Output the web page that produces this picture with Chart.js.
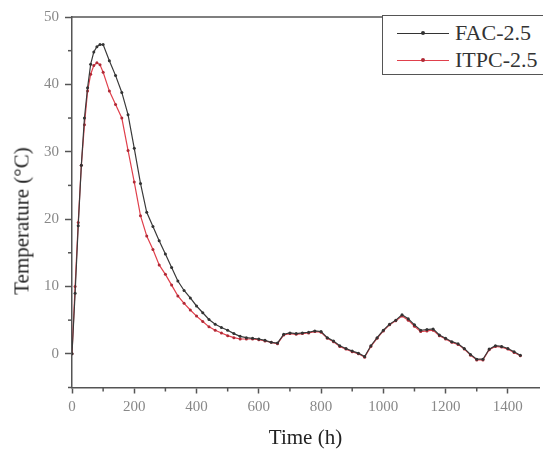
<!DOCTYPE html>
<html>
<head>
<meta charset="utf-8">
<script src="https://cdn.jsdelivr.net/npm/chart.js@4.4.0/dist/chart.umd.min.js"></script>
<style>
  html, body { margin: 0; padding: 0; background: #fff; }
  #wrap { position: relative; width: 543px; height: 451px; }
  #legend {
    position: absolute; left: 382px; top: 15px; width: 170px; height: 58px;
    border: 1px solid #555; background: #fff;
    font-family: "Liberation Serif", "Times New Roman", serif; font-size: 22px; color: #333;
  }
  .row { position: absolute; left: 14px; height: 24px; line-height: 24px; white-space: nowrap; }
  .sample { display: inline-block; position: relative; width: 52px; height: 0; border-top: 1.5px solid; vertical-align: middle; margin-right: 6px; top: -1px; }
  .sample i { position: absolute; left: 24px; top: -3px; width: 4px; height: 4px; border-radius: 2px; }
  #ytitle {
    position: absolute; left: 22px; top: 221px; transform: translate(-50%, -50%) rotate(-90deg);
    font-family: "Liberation Serif", "Times New Roman", serif; font-size: 21px; color: #222; white-space: nowrap;
  }
</style>
</head>
<body>
<div id="wrap">
  <canvas id="tempChart" width="543" height="451"></canvas>
  <div id="ytitle">Temperature (°C)</div>
  <div id="legend">
    <div class="row" style="top:5px"><span class="sample" style="border-color:#333"><i style="background:#333"></i></span>FAC-2.5</div>
    <div class="row" style="top:32px"><span class="sample" style="border-color:#e0404c"><i style="background:#b02a36"></i></span>ITPC-2.5</div>
  </div>
</div>
<script>
// ======= Data =======
const hours = [0, 10, 20, 30, 40, 50, 60, 70, 80, 90, 100,
  120, 140, 160, 180, 200, 220, 240, 260, 280, 300,
  320, 340, 360, 380, 400, 420, 440, 460, 480, 500,
  520, 540, 560, 580, 600, 620, 640, 660, 680, 700,
  720, 740, 760, 780, 800, 820, 840, 860, 880, 900,
  920, 940, 960, 980, 1000, 1020, 1040, 1060, 1080, 1100,
  1120, 1140, 1160, 1180, 1200, 1220, 1240, 1260, 1280, 1300,
  1320, 1340, 1360, 1380, 1400, 1420, 1440];

const facTemp = [0, 9, 19, 28, 35, 39.5, 43, 44.8, 45.6, 45.9, 45.9,
  43.5, 41.3, 38.8, 35.5, 30.5, 25.3, 21, 18.9, 16.8, 14.8,
  12.8, 10.8, 9.4, 8.3, 7.1, 6.1, 5.1, 4.4, 3.9, 3.5,
  3.0, 2.6, 2.4, 2.3, 2.2, 2.0, 1.7, 1.6, 2.9, 3.1,
  3.0, 3.1, 3.2, 3.4, 3.3, 2.4, 1.9, 1.2, 0.8, 0.4,
  0.1, -0.4, 1.2, 2.4, 3.5, 4.4, 5.0, 5.8, 5.2, 4.3,
  3.5, 3.6, 3.7, 2.8, 2.3, 1.8, 1.5, 0.8, -0.1, -0.8,
  -0.8, 0.7, 1.2, 1.1, 0.8, 0.3, -0.2];

const itpcTemp = [0, 10, 19.5, 28, 34, 39, 41.5, 42.8, 43.2, 42.9, 41.8,
  39, 37, 35, 30.2, 25.5, 20.5, 17.5, 15.5, 13.2, 11.8,
  10.2, 8.6, 7.5, 6.5, 5.6, 4.8, 4.0, 3.5, 3.1, 2.7,
  2.4, 2.2, 2.2, 2.2, 2.1, 1.9, 1.7, 1.5, 2.8, 3.0,
  2.9, 3.0, 3.1, 3.3, 3.2, 2.3, 1.8, 1.1, 0.7, 0.3,
  0.0, -0.5, 1.1, 2.3, 3.4, 4.3, 4.9, 5.6, 5.0, 4.1,
  3.3, 3.4, 3.5, 2.7, 2.2, 1.7, 1.4, 0.7, -0.2, -0.9,
  -0.9, 0.6, 1.1, 1.0, 0.7, 0.2, -0.3];

const yTicks = [0, 10, 20, 30, 40, 50];
const xTicks = [0, 200, 400, 600, 800, 1000, 1200, 1400];

const axisColor = "#555";
const serif = "'Liberation Serif', 'Times New Roman', serif";

// frame top line + minor ticks
const framePlugin = {
  id: "frame",
  afterDraw(chart) {
    const { ctx, chartArea, scales } = chart;
    ctx.save();
    ctx.strokeStyle = axisColor;
    ctx.lineWidth = 1.5;
    ctx.beginPath();
    ctx.moveTo(chartArea.left, chartArea.top);
    ctx.lineTo(chartArea.right, chartArea.top);
    ctx.stroke();
    for (let v = -5; v < 50; v += 10) {
      const py = scales.y.getPixelForValue(v);
      ctx.beginPath();
      ctx.moveTo(chartArea.left, py);
      ctx.lineTo(chartArea.left - 4, py);
      ctx.stroke();
    }
    for (let v = 100; v < 1500; v += 200) {
      const px = scales.x.getPixelForValue(v);
      ctx.beginPath();
      ctx.moveTo(px, chartArea.bottom);
      ctx.lineTo(px, chartArea.bottom + 4);
      ctx.stroke();
    }
    ctx.restore();
  }
};

const ctx = document.getElementById("tempChart").getContext("2d");
const tempChart = new Chart(ctx, {
  type: "line",
  data: {
    labels: hours,
    datasets: [
      {
        label: "FAC-2.5",
        data: hours.map((h, i) => ({ x: h, y: facTemp[i] })),
        borderColor: "#3a3a3a",
        backgroundColor: "#333",
        borderWidth: 1.2,
        pointRadius: 1.5,
        pointBorderWidth: 0,
        tension: 0
      },
      {
        label: "ITPC-2.5",
        data: hours.map((h, i) => ({ x: h, y: itpcTemp[i] })),
        borderColor: "#e0404c",
        backgroundColor: "#b02a36",
        borderWidth: 1.2,
        pointRadius: 1.5,
        pointBorderWidth: 0,
        tension: 0
      }
    ]
  },
  options: {
    responsive: false,
    animation: false,
    layout: { padding: { top: 17, right: 0, bottom: 0, left: 0 } },
    plugins: { legend: { display: false }, tooltip: { enabled: false } },
    scales: {
      x: {
        type: "linear",
        min: 0,
        max: 1500,
        afterFit(scale) { scale.height = 63.5; },
        afterBuildTicks(scale) { scale.ticks = xTicks.map(v => ({ value: v })); },
        ticks: { font: { family: serif, size: 15 }, color: "#888", padding: 5, maxRotation: 0,
          callback: v => String(v) },
        grid: { drawOnChartArea: false, tickLength: 6, tickColor: axisColor, tickWidth: 1.5 },
        border: { color: axisColor, width: 1.5 },
        title: { display: true, text: "Time (h)", font: { family: serif, size: 21 }, color: "#222", padding: { top: 0, bottom: 0 } }
      },
      y: {
        min: -5,
        max: 50,
        afterFit(scale) { scale.width = 72; },
        afterBuildTicks(scale) { scale.ticks = yTicks.map(v => ({ value: v })); },
        ticks: { font: { family: serif, size: 15 }, color: "#888", padding: 6,
          callback: v => String(v) },
        grid: { drawOnChartArea: false, tickLength: 7, tickColor: axisColor, tickWidth: 1.5 },
        border: { color: axisColor, width: 1.5 }
      }
    }
  },
  plugins: [framePlugin]
});
</script>
</body>
</html>
